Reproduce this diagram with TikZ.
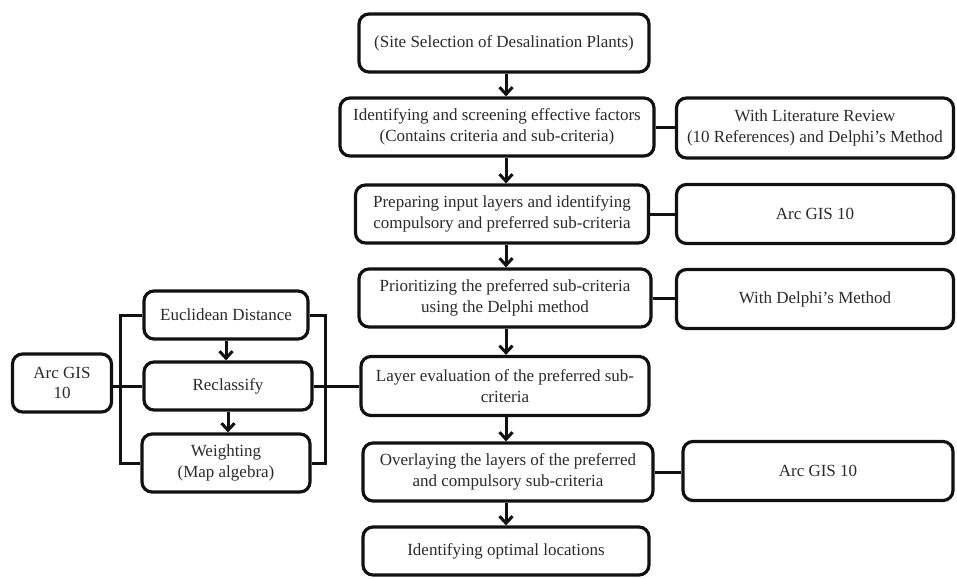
\documentclass[tikz,border=0pt]{standalone}
\usepackage{fontspec}
\setmainfont{Liberation Serif}
\usetikzlibrary{positioning, calc, arrows.meta}
\definecolor{Ink}{HTML}{111111}
\definecolor{Txt}{HTML}{2A2A2A}
\tikzset{
    stepbox/.style={rectangle, draw=Ink, line width=3.2pt, rounded corners=10pt, text=Txt, align=center, font=\fontsize{17}{20.5}\selectfont, inner sep=0pt},
    flow/.style={-{Straight Barb[length=7pt, width=13pt]}, line width=3pt, draw=Ink},
    link/.style={line width=3pt, draw=Ink},
}

\begin{document}
\begin{tikzpicture}[x=1pt, y=-1pt]
                \useasboundingbox (0,0) rectangle (957,578);

                % Main column
                \node[stepbox, minimum width=290pt, minimum height=58pt] (site) at (504,43) {(Site Selection of Desalination Plants)};
                \node[stepbox, minimum width=314pt, minimum height=58pt] (factors) at (497,127) {Identifying and screening effective factors\\(Contains criteria and sub-criteria)};
                \node[stepbox, minimum width=293pt, minimum height=58pt] (layers) at (502,214) {Preparing input layers and identifying\\compulsory and preferred sub-criteria};
                \node[stepbox, minimum width=292pt, minimum height=58pt] (prior) at (505,298) {Prioritizing the preferred sub-criteria\\using the Delphi method};
                \node[stepbox, minimum width=288pt, minimum height=59pt] (evalu) at (505,386) {Layer evaluation of the preferred sub-\\criteria};
                \node[stepbox, minimum width=290pt, minimum height=58pt] (overlay) at (508,472) {Overlaying the layers of the preferred\\and compulsory sub-criteria};
                \node[stepbox, minimum width=286pt, minimum height=48pt] (optimal) at (506,551) {Identifying optimal locations};

                % Tools on the right
                \node[stepbox, minimum width=277pt, minimum height=60pt] (litrev) at (815,128) {With Literature Review\\(10 References) and Delphi’s Method};
                \node[stepbox, minimum width=277pt, minimum height=59pt] (gisA) at (815,214) {Arc GIS 10};
                \node[stepbox, minimum width=277pt, minimum height=59pt] (delphi) at (815,299) {With Delphi’s Method};
                \node[stepbox, minimum width=270pt, minimum height=59pt] (gisB) at (818,471) {Arc GIS 10};

                % Sub-steps on the left
                \node[stepbox, minimum width=164pt, minimum height=48pt] (eucl) at (226,315) {Euclidean Distance};
                \node[stepbox, minimum width=168pt, minimum height=48pt] (recl) at (228,386) {Reclassify};
                \node[stepbox, minimum width=168pt, minimum height=58pt] (weight) at (226,463) {Weighting\\(Map algebra)};
                \node[stepbox, minimum width=99pt, minimum height=58pt] (gisL) at (62,383) {Arc GIS\\10};

                % Flow arrows
                \coordinate (axis) at (506,0);
                \foreach \a/\b in {site/factors, factors/layers, layers/prior, prior/evalu, evalu/overlay, overlay/optimal}
                    \draw[flow] (axis |- \a.south) -- (axis |- \b.north);
                \draw[flow] (eucl.south) -- (eucl.south |- recl.north);
                \draw[flow] (recl.south) -- (recl.south |- weight.north);

                % Side links
                \foreach \a/\b in {factors/litrev, layers/gisA, prior/delphi, overlay/gisB}
                    \draw[link] (\a.east) -- (\a.east -| \b.west);

                % Brackets round the sub-steps
                \coordinate (lb) at (120,0);
                \coordinate (rb) at (325,0);
                \draw[link] (eucl.west) -| (lb |- weight.west) -- (weight.west);
                \draw[link] (eucl.east) -| (rb |- weight.east) -- (weight.east);
                \draw[link] (gisL.east |- recl.west) -- (recl.west);
                \draw[link] (recl.east) -- (evalu.west);
            \end{tikzpicture}
\end{document}
